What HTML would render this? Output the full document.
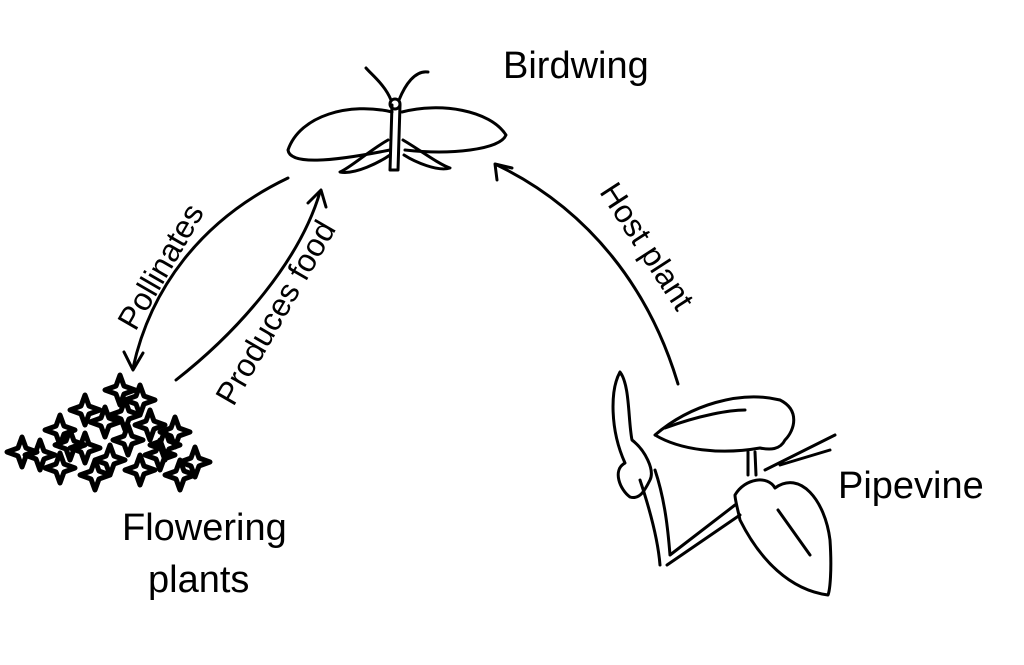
<!DOCTYPE html>
<html><head><style>
body{margin:0;background:#fff}
svg{display:block}
text{font-family:"Liberation Sans",sans-serif;fill:#000}
</style></head><body>
<svg width="1024" height="665" viewBox="0 0 1024 665" fill="none" stroke="#000" stroke-width="3" stroke-linecap="round" stroke-linejoin="round">
<defs>
<path id="st" d="M0,-15 L4,-4 L15,0 L4,4 L0,15 L-4,4 L-15,0 L-4,-4 Z"/>
</defs>
<!-- butterfly -->
<path d="M392,112 C350,102 300,115 288,150 C290,165 330,162 390,150"/>
<path d="M402,112 C440,102 490,110 506,135 C500,150 450,155 405,150"/>
<path d="M388,140 C370,150 350,168 340,172 C355,175 380,162 390,155"/>
<path d="M403,140 C420,150 440,165 450,168 C438,172 415,162 404,155"/>
<path d="M392,105 L390,170 M400,105 L398,170 M390,170 L398,170"/>
<circle cx="395" cy="104" r="5"/>
<path d="M391,100 C385,85 372,75 366,68 M399,100 C405,85 415,70 428,72"/>
<!-- arrows -->
<path d="M288,178 C200,220 150,290 133,368"/>
<path d="M124,352 L133,370 L143,353"/>
<path d="M176,380 C240,330 300,260 320,192"/>
<path d="M308,203 L321,190 L326,207"/>
<path d="M678,384 C650,290 590,210 497,165"/>
<path d="M497,180 L495,164 L512,168"/>
<!-- flowers -->
<g stroke-width="5">
<use href="#st" x="120" y="390"/><use href="#st" x="140" y="400"/><use href="#st" x="85" y="410"/>
<use href="#st" x="60" y="430"/><use href="#st" x="105" y="422"/><use href="#st" x="150" y="425"/>
<use href="#st" x="175" y="432"/><use href="#st" x="128" y="440"/><use href="#st" x="85" y="448"/>
<use href="#st" x="40" y="455"/><use href="#st" x="160" y="455"/><use href="#st" x="195" y="462"/>
<use href="#st" x="110" y="460"/><use href="#st" x="60" y="468"/><use href="#st" x="140" y="470"/>
<use href="#st" x="22" y="452"/><use href="#st" x="180" y="475"/><use href="#st" x="95" y="475"/>
<use href="#st" x="70" y="445"/><use href="#st" x="125" y="415"/><use href="#st" x="165" y="445"/>
</g>
<!-- pipevine -->
<path d="M625,463 C610,430 610,390 620,372 C630,385 628,420 632,440 C645,450 655,470 650,480 C645,490 640,500 630,497 C620,490 612,470 625,463 Z"/>
<path d="M640,480 C650,510 658,540 660,565 M655,470 C665,500 668,530 670,555 L735,505"/>
<path d="M667,565 L740,515"/>
<path d="M655,435 C690,405 740,390 780,400 C800,410 795,430 785,440 C780,450 770,450 760,448 C720,455 680,450 655,435"/>
<path d="M665,428 C700,415 730,410 745,410"/>
<path d="M748,452 L748,475 M755,452 L756,475"/>
<path d="M735,495 C745,478 768,475 775,488 C800,470 825,500 830,540 C832,570 830,590 828,595 C790,590 760,560 740,520 C738,510 735,500 735,495 Z"/>
<path d="M778,510 L810,555"/>
<path d="M765,470 L835,435 M780,465 L830,450"/>
<!-- labels -->
<g stroke="none">
<text x="503" y="78" font-size="38">Birdwing</text>
<text x="122" y="540" font-size="38">Flowering</text>
<text x="148" y="592" font-size="38">plants</text>
<text x="838" y="498" font-size="38">Pipevine</text>
<text transform="translate(170,272) rotate(-60)" font-size="32" text-anchor="middle">Pollinates</text>
<text transform="translate(285,318) rotate(-60)" font-size="32" text-anchor="middle">Produces food</text>
<text transform="translate(638,252) rotate(57)" font-size="32" text-anchor="middle">Host plant</text>
</g>
</svg>
</body></html>
